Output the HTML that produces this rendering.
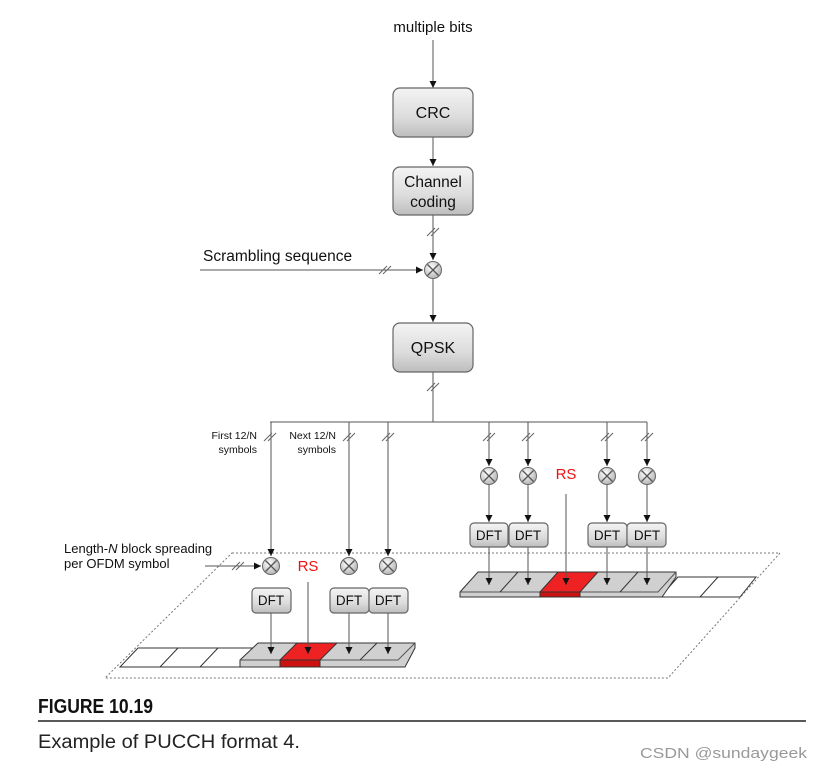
<!DOCTYPE html>
<html><head><meta charset="utf-8"><style>
html,body{margin:0;padding:0;background:#fff;width:820px;height:772px;overflow:hidden}
svg{display:block}
text{font-family:"Liberation Sans",Arial,sans-serif}
</style></head><body>
<svg width="820" height="772" viewBox="0 0 820 772" xmlns="http://www.w3.org/2000/svg">
<defs>
<linearGradient id="bx" x1="0" y1="0" x2="0" y2="1"><stop offset="0" stop-color="#f4f4f4"/><stop offset="0.6" stop-color="#dcdcdc"/><stop offset="1" stop-color="#bdbdbd"/></linearGradient>
<radialGradient id="mx" cx="0.4" cy="0.35" r="0.7"><stop offset="0" stop-color="#ffffff"/><stop offset="1" stop-color="#b0b0b0"/></radialGradient>
<marker id="ar" markerWidth="8" markerHeight="8" refX="7" refY="4" orient="auto" markerUnits="userSpaceOnUse"><path d="M0,0.5 L7,4 L0,7.5 z" fill="#111"/></marker>
<g id="mix"><circle r="8.5" fill="url(#mx)" stroke="#666" stroke-width="1"/><path d="M-5.5,-5.5 L5.5,5.5 M5.5,-5.5 L-5.5,5.5" stroke="#555" stroke-width="1.3"/></g>
<g id="sl"><path d="M-6,4 L2,-4 M-2,4 L6,-4" stroke="#666" stroke-width="1"/></g>
</defs>
<!-- dashed plane -->
<path d="M232,553 L780,553 L668,678 L105,678 Z" fill="none" stroke="#777" stroke-width="1" stroke-dasharray="2,2"/>
<!-- left strip -->
<g stroke="#333" stroke-width="1">
<path d="M120,667 L138,648 L258,648 L240,667 Z" fill="#fff"/>
<path d="M160,667 L178,648 M200,667 L218,648" fill="none"/>
<path d="M240,660 L258,643 L415,643 L415,648 L405,667 L240,667 Z" fill="#d0d0d0"/>
<path d="M240,660 L398,660 L415,643" fill="none" stroke="#555"/>
<path d="M280,660 L297,643 L337,643 L320,660 Z" fill="#ee2222"/>
<rect x="280" y="660" width="40" height="7" fill="#cc1111"/>
<path d="M360,660 L377,643" fill="none"/>
</g>
<!-- right strip -->
<g stroke="#333" stroke-width="1">
<path d="M660,597 L678,577 L756,577 L740,597 Z" fill="#fff"/>
<path d="M700,597 L718,577" fill="none"/>
<path d="M460,592 L478,572 L676,572 L676,577 L662,597 L460,597 Z" fill="#d0d0d0"/>
<path d="M460,592 L658,592 L676,572" fill="none" stroke="#555"/>
<path d="M540,592 L558,572 L598,572 L580,592 Z" fill="#ee2222"/>
<rect x="540" y="592" width="40" height="5" fill="#cc1111"/>
<path d="M500,592 L518,572 M620,592 L638,572" fill="none"/>
</g>
<g stroke="#555" stroke-width="1" fill="none">
<line x1="433" y1="40" x2="433" y2="88" marker-end="url(#ar)"/>
<line x1="433" y1="137" x2="433" y2="166" marker-end="url(#ar)"/>
<line x1="433" y1="215" x2="433" y2="260" marker-end="url(#ar)"/>
<line x1="200" y1="270" x2="423" y2="270" marker-end="url(#ar)"/>
<line x1="433" y1="279" x2="433" y2="322" marker-end="url(#ar)"/>
<line x1="433" y1="372" x2="433" y2="422"/>
<line x1="270" y1="422" x2="647" y2="422"/>
<line x1="271" y1="422" x2="271" y2="556" marker-end="url(#ar)"/>
<line x1="349" y1="422" x2="349" y2="556" marker-end="url(#ar)"/>
<line x1="388" y1="422" x2="388" y2="556" marker-end="url(#ar)"/>
<line x1="205" y1="566" x2="261" y2="566" marker-end="url(#ar)"/>
<line x1="271" y1="612" x2="271" y2="654" marker-end="url(#ar)"/>
<line x1="349" y1="612" x2="349" y2="654" marker-end="url(#ar)"/>
<line x1="388" y1="612" x2="388" y2="654" marker-end="url(#ar)"/>
<line x1="308" y1="582" x2="308" y2="654" marker-end="url(#ar)"/>
<line x1="489" y1="422" x2="489" y2="466" marker-end="url(#ar)"/>
<line x1="528" y1="422" x2="528" y2="466" marker-end="url(#ar)"/>
<line x1="607" y1="422" x2="607" y2="466" marker-end="url(#ar)"/>
<line x1="647" y1="422" x2="647" y2="466" marker-end="url(#ar)"/>
<line x1="489" y1="485" x2="489" y2="522" marker-end="url(#ar)"/>
<line x1="528" y1="485" x2="528" y2="522" marker-end="url(#ar)"/>
<line x1="607" y1="485" x2="607" y2="522" marker-end="url(#ar)"/>
<line x1="647" y1="485" x2="647" y2="522" marker-end="url(#ar)"/>
<line x1="489" y1="547" x2="489" y2="585" marker-end="url(#ar)"/>
<line x1="528" y1="547" x2="528" y2="585" marker-end="url(#ar)"/>
<line x1="607" y1="547" x2="607" y2="585" marker-end="url(#ar)"/>
<line x1="647" y1="547" x2="647" y2="585" marker-end="url(#ar)"/>
<line x1="566" y1="494" x2="566" y2="585" marker-end="url(#ar)"/>
</g>
<use href="#sl" x="433" y="232"/><use href="#sl" x="385" y="270"/><use href="#sl" x="433" y="387"/>
<use href="#sl" x="270" y="437"/><use href="#sl" x="349" y="437"/><use href="#sl" x="388" y="437"/>
<use href="#sl" x="489" y="437"/><use href="#sl" x="528" y="437"/><use href="#sl" x="607" y="437"/><use href="#sl" x="647" y="437"/>
<use href="#sl" x="238" y="566"/>
<g stroke="#666" stroke-width="1.2" fill="url(#bx)">
<rect x="393" y="88" width="80" height="49" rx="7"/>
<rect x="393" y="167" width="80" height="48" rx="7"/>
<rect x="393" y="323" width="80" height="49" rx="7"/>
<rect x="252" y="588" width="39" height="25" rx="4"/>
<rect x="330" y="588" width="39" height="25" rx="4"/>
<rect x="369" y="588" width="39" height="25" rx="4"/>
<rect x="470" y="523" width="38" height="24" rx="4"/>
<rect x="509" y="523" width="39" height="24" rx="4"/>
<rect x="588" y="523" width="39" height="24" rx="4"/>
<rect x="627" y="523" width="39" height="24" rx="4"/>
</g>
<use href="#mix" x="433" y="270"/>
<use href="#mix" x="271" y="566"/><use href="#mix" x="349" y="566"/><use href="#mix" x="388" y="566"/>
<use href="#mix" x="489" y="476"/><use href="#mix" x="528" y="476"/><use href="#mix" x="607" y="476"/><use href="#mix" x="647" y="476"/>
<g fill="#111" font-size="15">
<text x="433" y="32" text-anchor="middle">multiple bits</text>
<text x="433" y="118" text-anchor="middle" font-size="16">CRC</text>
<text x="433" y="187" text-anchor="middle" font-size="15.5">Channel</text>
<text x="433" y="207" text-anchor="middle" font-size="15.5">coding</text>
<text x="433" y="353" text-anchor="middle" font-size="16">QPSK</text>
<text x="203" y="261" font-size="15.5">Scrambling sequence</text>
<text x="64" y="553" font-size="13">Length-<tspan font-style="italic">N</tspan> block spreading</text>
<text x="64" y="568" font-size="13">per OFDM symbol</text>
</g>
<g fill="#111" font-size="10.5" text-anchor="end">
<text x="257" y="439">First 12/N</text><text x="257" y="453">symbols</text>
<text x="336" y="439">Next 12/N</text><text x="336" y="453">symbols</text>
</g>
<g fill="#111" font-size="13.5" text-anchor="middle">
<text x="271" y="605">DFT</text><text x="349" y="605">DFT</text><text x="388" y="605">DFT</text>
<text x="489" y="540">DFT</text><text x="528" y="540">DFT</text><text x="607" y="540">DFT</text><text x="647" y="540">DFT</text>
</g>
<text x="308" y="571" fill="#ee1111" font-size="15" text-anchor="middle">RS</text>
<text x="566" y="479" fill="#ee1111" font-size="15" text-anchor="middle">RS</text>
<text x="38" y="713" font-size="20" font-weight="bold" fill="#111" textLength="115" lengthAdjust="spacingAndGlyphs">FIGURE 10.19</text>
<line x1="38" y1="721" x2="806" y2="721" stroke="#222" stroke-width="1.5"/>
<text x="38" y="748" font-size="19" fill="#222" textLength="262" lengthAdjust="spacingAndGlyphs">Example of PUCCH format 4.</text>
<text x="640" y="758" font-size="15" fill="#999" textLength="167" lengthAdjust="spacingAndGlyphs">CSDN @sundaygeek</text>
</svg>
</body></html>
